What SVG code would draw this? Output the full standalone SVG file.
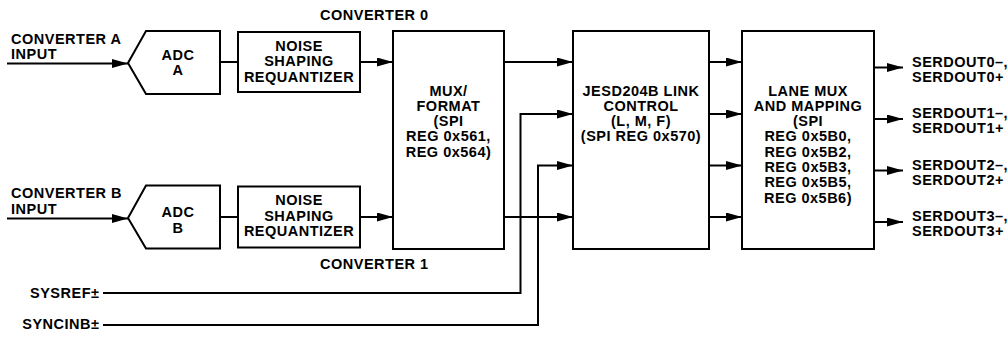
<svg xmlns="http://www.w3.org/2000/svg" width="1008" height="337" viewBox="0 0 1008 337">
<defs>
<style>
text{font-family:"Liberation Sans",Arial,sans-serif;font-weight:bold;font-size:14.5px;letter-spacing:0.5px;fill:#000}
.c{text-anchor:middle}
.e{text-anchor:end}
.box{fill:#fff;stroke:#000;stroke-width:2}
.ln{fill:none;stroke:#000;stroke-width:2}
.ar{marker-end:url(#ah)}
</style>
<marker id="ah" markerUnits="userSpaceOnUse" markerWidth="16" markerHeight="9" refX="16" refY="4.5" orient="auto">
<path d="M0,0 L16,4.5 L0,9 z" fill="#000"/>
</marker>
</defs>

<g id="connectors">
<path class="ln ar" d="M7,63.5 H128"/>
<path class="ln" d="M220,62 H238"/>
<path class="ln ar" d="M360,62 H393"/>
<path class="ln ar" d="M7,218.5 H128"/>
<path class="ln" d="M220,217 H238"/>
<path class="ln ar" d="M360,217 H393"/>
<path class="ln ar" d="M504,62 H573"/>
<path class="ln ar" d="M504,217 H573"/>
<path class="ln ar" d="M103,293 H520.5 V114 H573"/>
<path class="ln ar" d="M103,325 H538 V165.5 H573"/>
<path class="ln ar" d="M709,62 H742"/>
<path class="ln ar" d="M709,114 H742"/>
<path class="ln ar" d="M709,165.5 H742"/>
<path class="ln ar" d="M709,217 H742"/>
<path class="ln ar" d="M874,67.5 H903"/>
<path class="ln ar" d="M874,119 H903"/>
<path class="ln ar" d="M874,170.5 H903"/>
<path class="ln ar" d="M874,222 H903"/>
</g>

<g id="labels">
<text x="11" y="43.5">CONVERTER A</text>
<text x="11" y="59">INPUT</text>
<text x="11" y="198">CONVERTER B</text>
<text x="11" y="213.5">INPUT</text>
<text x="320" y="19.5">CONVERTER 0</text>
<text x="320" y="268.5">CONVERTER 1</text>
<text class="e" x="99.5" y="298">SYSREF±</text>
<text class="e" x="99.5" y="329">SYNCINB±</text>
<text x="912" y="66.5">SERDOUT0–,</text>
<text x="912" y="81.5">SERDOUT0+</text>
<text x="912" y="118">SERDOUT1–,</text>
<text x="912" y="133">SERDOUT1+</text>
<text x="912" y="169.5">SERDOUT2–,</text>
<text x="912" y="184.5">SERDOUT2+</text>
<text x="912" y="221">SERDOUT3–,</text>
<text x="912" y="236">SERDOUT3+</text>
</g>

<g id="adcA">
<path class="box" d="M128,63 L146,31 H220 V94 H146 Z"/>
<text class="c" x="178" y="59.5">ADC</text>
<text class="c" x="178" y="74.5">A</text>
</g>
<g id="nsrA">
<rect class="box" x="238" y="32" width="122" height="60"/>
<text class="c" x="299" y="50.5">NOISE</text>
<text class="c" x="299" y="66">SHAPING</text>
<text class="c" x="299" y="81.5">REQUANTIZER</text>
</g>
<g id="adcB">
<path class="box" d="M128,218 L146,185.5 H220 V248.5 H146 Z"/>
<text class="c" x="178" y="217">ADC</text>
<text class="c" x="178" y="232.5">B</text>
</g>
<g id="nsrB">
<rect class="box" x="238" y="186.5" width="122" height="61"/>
<text class="c" x="299" y="205">NOISE</text>
<text class="c" x="299" y="220.5">SHAPING</text>
<text class="c" x="299" y="236">REQUANTIZER</text>
</g>
<g id="mux">
<rect class="box" x="393" y="31" width="111" height="218"/>
<text class="c" x="448.5" y="95.5">MUX/</text>
<text class="c" x="448.5" y="110.7">FORMAT</text>
<text class="c" x="448.5" y="126">(SPI</text>
<text class="c" x="448.5" y="141.2">REG 0x561,</text>
<text class="c" x="448.5" y="156.5">REG 0x564)</text>
</g>
<g id="jesd">
<rect class="box" x="573" y="31" width="136" height="218"/>
<text class="c" x="641" y="95.5">JESD204B LINK</text>
<text class="c" x="641" y="110.7">CONTROL</text>
<text class="c" x="641" y="126">(L, M, F)</text>
<text class="c" x="641" y="141.2">(SPI REG 0x570)</text>
</g>
<g id="lane">
<rect class="box" x="742" y="31" width="132" height="218"/>
<text class="c" x="808" y="95.5">LANE MUX</text>
<text class="c" x="808" y="110.8">AND MAPPING</text>
<text class="c" x="808" y="126.1">(SPI</text>
<text class="c" x="808" y="141.4">REG 0x5B0,</text>
<text class="c" x="808" y="156.7">REG 0x5B2,</text>
<text class="c" x="808" y="172">REG 0x5B3,</text>
<text class="c" x="808" y="187.3">REG 0x5B5,</text>
<text class="c" x="808" y="202.6">REG 0x5B6)</text>
</g>
</svg>
